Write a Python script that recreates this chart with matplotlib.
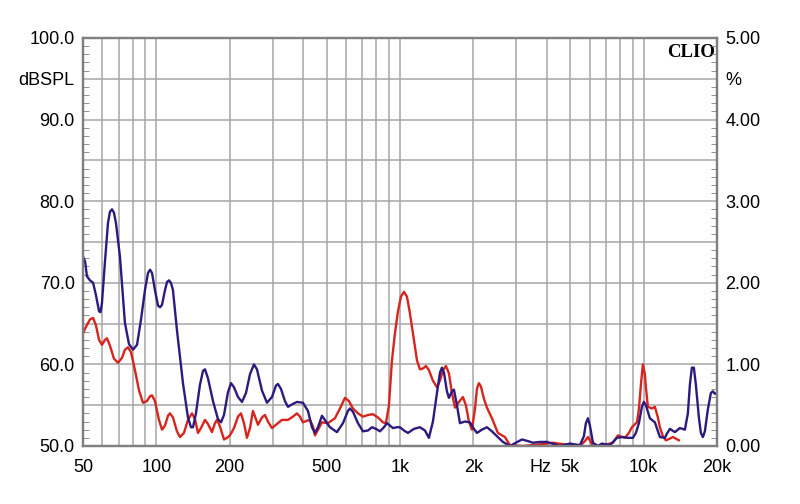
import numpy as np
import matplotlib
matplotlib.use("Agg")
import matplotlib.pyplot as plt
from matplotlib.ticker import FixedLocator, NullFormatter

# frequency response readings (Hz, dBSPL) - blue trace
blue_f = [50, 51, 51.9, 53.4, 55.0, 56.5, 58.2, 59.0, 59.8, 61.5, 63.3, 64.5, 65.75, 67.0,
          68.3, 70.9, 74.3, 77.2, 80.2, 83.3, 86.5, 89.8, 92.4, 94.2, 96.0, 98.7, 101.6,
          103.5, 105.5, 108.5, 110.6, 112.7, 114.8, 117.0, 121.5, 128.6, 134.8, 138.7,
          141.4, 145.4, 151.0, 155.4, 158.3, 162.9, 170.8, 179.0, 184.2, 189.5, 196.8,
          202.5, 208.3, 216.3, 224.6, 233.3, 242.3, 251.6, 258.8, 271.3, 284.4, 298.2,
          309.7, 315.6, 324.7, 337.2, 346.9, 360.3, 377.6, 399.6, 419.0, 435.1, 447.7,
          460.6, 478.3, 496.7, 515.8, 551.1, 583.3, 611.5, 623.1, 641.0, 672.1, 704.6,
          738.7, 767.2, 796.7, 827.4, 859.3, 884.0, 909.5, 935.6, 971.6, 999.5, 1038,
          1078, 1141, 1207, 1266, 1314, 1365, 1418, 1459, 1486, 1515, 1558, 1588, 1634,
          1665, 1713, 1762, 1847, 1936, 2011, 2069, 2169, 2274, 2384, 2499, 2645, 2826,
          2991, 3166, 3350, 3512, 3752, 4009, 4324, 4533, 4981, 5475, 5686, 5794, 5905,
          6018, 6191, 6491, 6741, 7270, 7550, 7767, 8219, 8616, 9032, 9292, 9560, 9835,
          10023, 10214, 10607, 11120, 11440, 11658, 12221, 12454, 12812, 13432, 14082,
          14764, 15188, 15478, 15773, 16074, 16381, 16852, 17174, 17502, 17836, 18348,
          18875, 19235, 19602, 20000]
blue_db = [73.2, 72.6, 70.8, 70.3, 70.0, 68.5, 66.5, 66.4, 67.5, 72.5, 77.3, 78.7, 79.0, 78.6,
           77.3, 73.2, 65.1, 62.5, 61.8, 62.4, 65.5, 69.1, 71.2, 71.6, 71.2, 69.1, 67.2,
           67.0, 67.3, 69.1, 70.1, 70.3, 70.0, 69.1, 64.2, 57.7, 53.5, 52.3,
           52.3, 54.0, 57.5, 59.2, 59.4, 58.3, 55.5, 53.3, 52.9, 53.8, 56.6,
           57.7, 57.2, 56.0, 55.4, 56.5, 58.8, 60.0, 59.4, 56.8, 55.3, 56.0,
           57.4, 57.6, 57.0, 55.5, 54.8, 55.1, 55.4, 55.3, 54.3, 52.3, 51.6,
           52.3, 53.7, 53.0, 52.3, 51.7, 52.8, 54.3, 54.6, 54.2, 52.8, 51.8,
           51.9, 52.3, 52.1, 51.8, 52.3, 52.8, 52.5, 52.2, 52.3, 52.3, 51.9,
           51.6, 52.1, 52.3, 51.9, 51.0, 53.0, 56.5, 59.0, 59.6, 59.0, 56.7, 55.9, 56.7,
           56.9, 55.0, 52.8, 53.0, 52.9, 52.1, 51.6, 52.0, 52.3, 51.8, 51.2, 50.5, 50.0,
           50.4, 50.8, 50.6, 50.4, 50.5, 50.5, 50.2, 50.0, 50.3, 50.1, 51.2, 52.8, 53.4,
           52.5, 50.4, 50.0, 50.3, 50.1, 50.6, 51.0, 51.1, 51.0, 51.0, 51.6, 52.8, 54.8,
           55.4, 55.0, 53.4, 52.9, 51.8, 51.1, 51.0, 51.5, 52.1, 51.7, 52.2,
           52.0, 54.0, 57.5, 59.6, 59.6, 57.5, 53.5, 51.6, 51.1, 51.8, 54.5,
           56.5, 56.7, 56.4, 56.5]

# red trace
red_f = [50, 51.4, 53.4, 55.0, 56.5, 58.2, 59.8, 61.5, 62.7, 64.5, 67.0, 69.6, 72.3, 74.3,
         76.5, 78.7, 81.7, 84.9, 88.1, 91.5, 94.2, 96.0, 98.7, 102.5, 105.5, 108.5, 111.6,
         113.7, 117.0, 121.5, 125.0, 129.8, 134.8, 140.0, 144.1, 148.2, 152.5, 158.3,
         162.9, 169.2, 174.0, 177.4, 182.4, 189.5, 195.0, 200.5, 208.3, 216.3, 222.5,
         228.9, 235.4, 242.3, 249.2, 256.4, 261.3, 271.3, 279.1, 287.1, 298.2, 312.6,
         327.8, 346.9, 363.7, 377.6, 388.5, 399.6, 415.0, 427.0, 439.3, 447.7, 460.6,
         478.3, 506.2, 540.8, 567.0, 594.3, 617.3, 641.0, 672.1, 704.6, 738.7, 774.5,
         811.9, 851.2, 875.7, 900.9, 926.8, 953.4, 980.8, 1009, 1038, 1068, 1098, 1141,
         1174, 1207, 1242, 1278, 1314, 1365, 1418, 1459, 1501, 1544, 1588, 1634, 1681,
         1746, 1812, 1864, 1918, 1973, 2030, 2069, 2108, 2148, 2210, 2274, 2384, 2522,
         2695, 2826, 3196, 3752, 4243, 4981, 5475, 5740, 5905, 6018, 6191, 6614, 7479,
         7841, 8376, 8698, 8948, 9381, 9560, 9743, 9928, 10118, 10214, 10408, 10809,
         11120, 11440, 11658, 11992, 12337, 12812, 13181, 13560, 13950]
red_db = [63.8, 64.6, 65.5, 65.7, 64.8, 63.0, 62.4, 63.0, 63.2, 62.3, 60.7, 60.2, 60.8, 61.8,
          62.1, 61.5, 59.3, 56.8, 55.3, 55.5, 56.1, 56.2, 55.5, 53.2, 52.0, 52.5, 53.7,
          54.0, 53.5, 51.8, 51.1, 51.6, 53.2, 54.0, 53.3, 51.6, 52.2, 53.2,
          52.7, 51.7, 52.8, 53.2, 52.4, 50.8, 51.0, 51.3, 52.2, 53.6, 54.0,
          52.8, 51.0, 52.2, 54.3, 53.3, 52.6, 53.5, 53.8, 53.0, 52.2, 52.7,
          53.2, 53.2, 53.6, 54.0, 53.6, 52.9, 53.1, 53.2, 52.4, 51.3, 52.0,
          52.9, 52.8, 53.4, 54.6, 55.9, 55.5, 54.6, 54.0, 53.6, 53.8, 53.9,
          53.5, 52.9, 52.8, 55.0, 60.5, 63.8, 66.5, 68.3, 68.9, 68.3, 66.3, 63.0,
          60.5, 59.4, 59.5, 59.8, 59.3, 58.0, 57.2, 58.0, 59.3, 59.8, 58.9, 56.5, 54.7,
          55.4, 56.0, 55.0, 53.0, 52.0, 54.5, 57.0, 57.7, 57.3, 55.8, 54.7, 53.4, 51.6,
          51.1, 50.1, 50.0, 50.2, 50.4, 50.1, 50.0, 50.6, 51.1, 50.7, 50.0, 50.0, 50.4,
          51.3, 51.0, 51.6, 52.3, 52.9, 54.5, 57.5, 60.0, 58.8, 57.2, 54.8, 54.6,
          54.8, 53.5, 52.3, 51.2, 50.7, 50.9, 51.1, 50.9, 50.7]

x_ticks = [50, 100, 200, 500, 1000, 2000, 5000, 10000, 20000]
x_labels = ["50", "100", "200", "500", "1k", "2k", "5k", "10k", "20k"]
x_minor = [60, 70, 80, 90, 300, 400, 600, 700, 800, 900, 3000, 4000,
           6000, 7000, 8000, 9000]
left_labels = ["50.0", "", "60.0", "", "70.0", "", "80.0", "", "90.0", "dBSPL", "100.0"]
right_labels = ["0.00", "", "1.00", "", "2.00", "", "3.00", "", "4.00", "%", "5.00"]

plt.rcParams['font.family'] = ['Liberation Sans', 'DejaVu Sans']
fs = 13
grid_c = "#a6a6a6"
spine_c = "#808080"

fig = plt.figure(figsize=(8, 5.04), dpi=100)
ax = fig.add_axes([83 / 800, 58 / 504, 634 / 800, 408 / 504])
ax.set_xscale("log")
ax.set_xlim(50, 20000)
ax.set_ylim(50, 100)

ax.set_xticks(x_ticks)
ax.set_xticklabels(x_labels)
ax.xaxis.set_minor_locator(FixedLocator(x_minor))
ax.xaxis.set_minor_formatter(NullFormatter())
ax.tick_params(axis="x", which="both", length=0, pad=9, labelsize=fs)
ax.grid(True, axis="x", which="both", color=grid_c, lw=1.1)

ax.set_yticks(np.arange(50, 101, 5))
ax.set_yticklabels(left_labels)
ax.set_yticks(np.arange(50, 101, 1), minor=True)
ax.tick_params(axis="y", which="major", length=0, pad=6, labelsize=fs)
ax.tick_params(axis="y", which="minor", direction="in", length=4, color=spine_c)
ax.grid(True, axis="y", which="major", color=grid_c, lw=1.1)

for s in ax.spines.values():
    s.set_color(spine_c)
    s.set_linewidth(1.6)

ax.plot(red_f, red_db, color="#d7241c", lw=1.7, zorder=3, solid_joinstyle="round")
ax.plot(blue_f, blue_db, color="#2c1a7e", lw=1.7, zorder=4, solid_joinstyle="round")

ax.text(3780, -0.031, "Hz", transform=ax.get_xaxis_transform(), ha="center", va="top",
        fontsize=fs)
ax.text(0.997, 0.985, "CLIO", transform=ax.transAxes, ha="right", va="top",
        fontsize=13.5, fontweight="bold", family="Liberation Serif", zorder=5)

ax2 = ax.twinx()
ax2.set_ylim(0, 5)
ax2.set_yticks(np.arange(0, 5.01, 0.5))
ax2.set_yticklabels(right_labels)
ax2.set_yticks(np.arange(0, 5.01, 0.1), minor=True)
ax2.tick_params(axis="y", which="major", length=0, pad=6, labelsize=fs)
ax2.tick_params(axis="y", which="minor", direction="in", length=4, color=spine_c)
for s in ax2.spines.values():
    s.set_color(spine_c)
    s.set_linewidth(1.6)

fig.savefig("out.png", dpi=100)
